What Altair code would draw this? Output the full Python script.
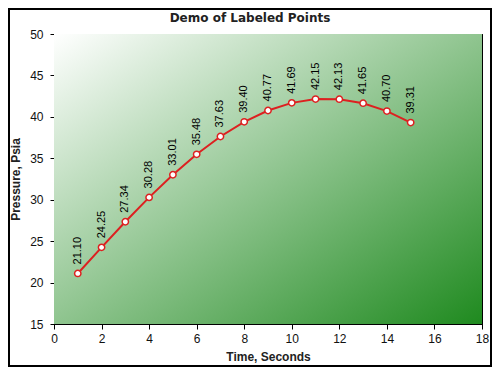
import altair as alt
import pandas as pd

# ---- data ----
time_s = [1, 2, 3, 4, 5, 6, 7, 8, 9, 10, 11, 12, 13, 14, 15]
pressure = [21.10, 24.25, 27.34, 30.28, 33.01, 35.48, 37.63, 39.40,
            40.77, 41.69, 42.15, 42.13, 41.65, 40.70, 39.31]
x_domain = [0, 18]
y_domain = [15, 50]
x_major = [0, 2, 4, 6, 8, 10, 12, 14, 16, 18]
y_major = [15, 20, 25, 30, 35, 40, 45, 50]
x_minor = [i * 0.5 for i in range(0, 37)]
y_minor = list(range(15, 51))
chart_title = ["Demo of Labeled Points"]

df = pd.DataFrame({"t": time_s, "p": pressure,
                   "lbl": [f"{v:.2f}" for v in pressure]})
bg = pd.DataFrame({"x0": [x_domain[0]], "x1": [x_domain[1]],
                   "y0": [y_domain[0]], "y1": [y_domain[1]]})
title_df = pd.DataFrame({"txt": chart_title})

W, H = 428, 290
PAD = {"left": 46, "top": 26, "right": 10, "bottom": 43}

xs = alt.Scale(domain=x_domain, nice=False, zero=False)
ys = alt.Scale(domain=y_domain, nice=False, zero=False)

LBL_FONT = "Liberation Sans"

main_x = alt.Axis(orient="bottom", values=x_major, tickSize=5, tickColor="#000",
                  domainColor="#000", labelFont=LBL_FONT, labelFontSize=12,
                  labelColor="#111", labelPadding=4, grid=False,
                  title="Time, Seconds", titleFont=LBL_FONT, titleFontSize=12,
                  titleFontWeight="bold", titleColor="#222", titlePadding=7,
                  labelFlush=False)
main_y = alt.Axis(orient="left", values=y_major, tickSize=4, tickColor="#000",
                  domainColor="#000", labelFont=LBL_FONT, labelFontSize=12,
                  labelColor="#111", labelPadding=7, grid=False,
                  title="Pressure, Psia", titleFont=LBL_FONT, titleFontSize=12,
                  titleFontWeight="bold", titleColor="#222", titlePadding=7,
                  labelFlush=False)


def inward(orient, vals):
    return alt.Axis(orient=orient, values=vals, tickSize=4, offset=-4,
                    labels=False, domain=False, grid=False, title=None,
                    tickColor="#000")


background = alt.Chart(bg).mark_rect(
    fill=alt.Gradient(gradient="linear",
                      stops=[alt.GradientStop(color="#ffffff", offset=0),
                             alt.GradientStop(color="#1f8a1f", offset=1)],
                      x1=0, y1=0, x2=1, y2=1)
).encode(
    x=alt.X("x0:Q", scale=xs, axis=main_x),
    x2="x1:Q",
    y=alt.Y("y0:Q", scale=ys, axis=main_y),
    y2="y1:Q",
)

line = alt.Chart(df).mark_line(color="#dd2020", strokeWidth=2).encode(
    x=alt.X("t:Q", scale=xs, axis=inward("bottom", x_minor)),
    y=alt.Y("p:Q", scale=ys, axis=inward("left", y_minor)),
)

points = alt.Chart(df).mark_point(
    shape="circle", filled=True, fill="#ffffff", stroke="#dd2020",
    strokeWidth=1.5, size=40, opacity=1
).encode(
    x=alt.X("t:Q", scale=xs, axis=inward("top", x_minor)),
    y=alt.Y("p:Q", scale=ys, axis=inward("right", y_minor)),
)

labels = alt.Chart(df).mark_text(
    angle=270, align="left", baseline="middle", dx=9,
    font=LBL_FONT, fontSize=11, color="#000"
).encode(
    x=alt.X("t:Q", scale=xs, axis=None),
    y=alt.Y("p:Q", scale=ys, axis=None),
    text="lbl:N",
)

title_mark = alt.Chart(title_df).mark_text(
    align="center", baseline="alphabetic", font="DejaVu Sans",
    fontSize=12, fontWeight="bold", color="#222"
).encode(
    x=alt.value(W / 2 - 18), y=alt.value(-12), text="txt:N",
)

border = alt.Chart(bg).mark_rect(
    fill=None, stroke="#000", strokeWidth=2
).encode(
    x=alt.value(-45), x2=alt.value(W + PAD["right"] - 1),
    y=alt.value(-25), y2=alt.value(H + PAD["bottom"] - 1),
)

chart = alt.layer(background, line, points, labels, title_mark, border).resolve_axis(
    x="independent", y="independent"
).properties(
    width=W, height=H,
    autosize=alt.AutoSizeParams(type="none"),
    padding=PAD,
    background="#ffffff",
).configure_view(stroke="#000", strokeWidth=1)

chart.save("out.html", embed_options={"renderer": "svg", "actions": False})
